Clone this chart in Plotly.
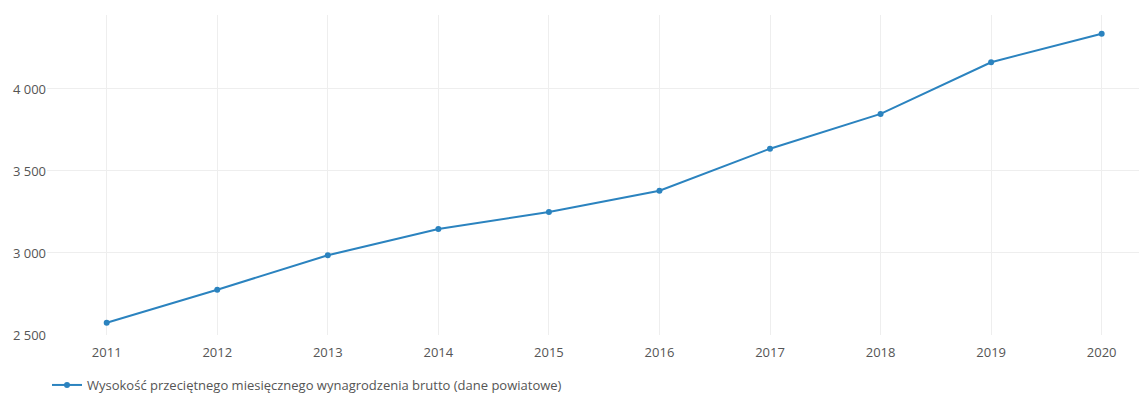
import plotly.graph_objects as go

years = [2011, 2012, 2013, 2014, 2015, 2016, 2017, 2018, 2019, 2020]
wages = [2575, 2776, 2986, 3146, 3250, 3380, 3636, 3848, 4163, 4337]
series_name = "Wysokość przeciętnego miesięcznego wynagrodzenia brutto (dane powiatowe)"
y_ticks = [2500, 3000, 3500, 4000]

fig = go.Figure()
fig.add_trace(go.Scatter(
    x=years, y=wages, mode="lines+markers", name=series_name,
    line=dict(color="#2b83bf", width=2),
    marker=dict(color="#2b83bf", size=6),
    showlegend=True,
))

fig.update_layout(
    width=1139, height=392,
    margin=dict(l=39, r=0, t=7, b=65, autoexpand=False),
    paper_bgcolor="white", plot_bgcolor="white",
    font=dict(family="Open Sans", size=13, color="#555"),
    separators=", ",
    showlegend=True,
    legend=dict(orientation="h", x=0, xanchor="left", yref="container", y=0,
                yanchor="bottom", font=dict(size=13, color="#555")),
    xaxis=dict(range=[2010.46, 2020.41], tickvals=years, showgrid=True,
               gridcolor="#eeeeee", zeroline=False, showline=False,
               ticklabelstandoff=8, automargin=False,
               tickfont=dict(size=13, color="#555")),
    yaxis=dict(range=[2500, 4451], tickvals=y_ticks, tickformat=",d",
               showgrid=True, gridcolor="#eeeeee", zeroline=False, showline=False,
               automargin=False,
               tickfont=dict(size=13, color="#555")),
)

fig.write_html("out.html")
